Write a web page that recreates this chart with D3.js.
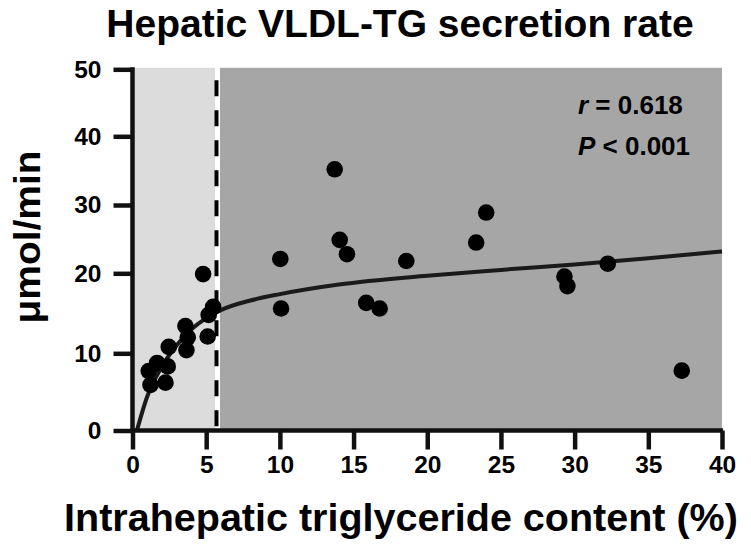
<!DOCTYPE html>
<html><head><meta charset="utf-8">
<script src="https://cdn.jsdelivr.net/npm/d3@7"></script>
<style>
body{margin:0;background:#fff}
svg{display:block}
text{font-family:"Liberation Sans",Arial,Helvetica,sans-serif;font-weight:bold;fill:#000}
</style>
</head><body>
<svg id="chart" width="751" height="548"></svg>
<script>
// ---- data ----
const ihtgContent = [4.79, 5.47, 5.17, 5.10, 3.59, 3.75, 3.66, 2.46, 2.39, 1.67, 1.10, 1.22, 2.24,
                     10.03, 10.08, 13.72, 14.06, 14.55, 18.58, 24.0, 23.32, 15.86, 16.77, 29.31, 29.51, 32.25, 37.27];
const vldlSecretion = [19.9, 15.8, 14.8, 12.1, 13.4, 12.0, 10.4, 10.8, 8.3, 8.75, 7.7, 5.9, 6.2,
                     22.1, 15.6, 35.2, 24.9, 22.8, 21.8, 28.9, 24.5, 16.3, 15.6, 19.6, 18.4, 21.4, 7.75];
const fitX = [0.3, 1.0, 2, 3, 4, 5, 6, 8, 10, 14, 20, 25, 30, 35, 40];
const fitY = [0, 4.4, 8.3, 11.0, 13.0, 14.4, 15.4, 16.6, 17.4, 18.6, 19.7, 20.5, 21.3, 22.2, 23.2];
const xTicks = [0, 5, 10, 15, 20, 25, 30, 35, 40];
const yTicks = [0, 10, 20, 30, 40, 50];
const threshold = 5.7;
const titleText = "Hepatic VLDL-TG secretion rate";
const xLabelText = "Intrahepatic triglyceride content (%)";
const yLabelText = "μmol/min";
const statR = "0.618";
const statP = "0.001";

// ---- layout ----
const svg = d3.select("#chart");
const x = d3.scaleLinear().domain([0, 40]).range([132.5, 722]);
// the reference's vertical axis is not evenly spaced; follow its tick positions
const y = d3.scaleLinear().domain(yTicks).range([430.5, 353.3, 273.3, 205, 136.3, 69.3]);

// backgrounds
svg.append("rect").attr("x", x(0)).attr("y", y(50) - 1.5)
  .attr("width", x(threshold) - x(0)).attr("height", y(0) - y(50) + 1.5).attr("fill", "#dcdcdc");
svg.append("rect").attr("x", x(threshold) + 3).attr("y", y(50) - 1.5)
  .attr("width", x(40) - x(threshold) - 3).attr("height", y(0) - y(50) + 1.5).attr("fill", "#a6a6a6");
// threshold line
svg.append("line").attr("x1", x(threshold) + 1).attr("x2", x(threshold) + 1)
  .attr("y1", y(50) - 1.5).attr("y2", y(0)).attr("stroke", "#fff").attr("stroke-width", 5);
svg.append("line").attr("x1", x(threshold)).attr("x2", x(threshold))
  .attr("y1", y(50) + 11).attr("y2", y(0)).attr("stroke", "#000").attr("stroke-width", 4)
  .attr("stroke-dasharray", "16,14");

// fit curve
const fitData = fitX.map((d, i) => [d, fitY[i]]);
svg.append("path").datum(fitData)
  .attr("d", d3.line().x(d => x(d[0])).y(d => y(d[1])).curve(d3.curveMonotoneX))
  .attr("fill", "none").attr("stroke", "#1a1a1a").attr("stroke-width", 4);

// points
svg.append("g").selectAll("circle").data(ihtgContent.map((d, i) => [d, vldlSecretion[i]]))
  .join("circle").attr("cx", d => x(d[0])).attr("cy", d => y(d[1])).attr("r", 8.3).attr("fill", "#000");

// axes
const xAxis = svg.append("g").attr("transform", `translate(0,${y(0)})`)
  .call(d3.axisBottom(x).tickValues(xTicks).tickSize(19).tickPadding(6).tickSizeOuter(0));
const yAxis = svg.append("g").attr("transform", `translate(${x(0)},0)`)
  .call(d3.axisLeft(y).tickValues(yTicks).tickSize(19).tickPadding(12).tickSizeOuter(0));
[xAxis, yAxis].forEach(g => {
  g.select(".domain").attr("stroke", "#111").attr("stroke-width", 4.5);
  g.selectAll(".tick line").attr("stroke", "#111").attr("stroke-width", 4.5);
  g.selectAll("text").attr("font-family", "Liberation Sans, Arial, sans-serif")
    .attr("font-weight", "bold").attr("font-size", 24.5).attr("fill", "#000");
});
xAxis.select(".domain").attr("d", `M${x(0) - 2},0H${x(40) + 1}`);
yAxis.select(".domain").attr("d", `M0,${y(0) + 2}V${y(50) - 2}`);

// titles
svg.append("text").attr("x", 400).attr("y", 37).attr("text-anchor", "middle")
  .attr("font-size", 39).text(titleText);
svg.append("text").attr("x", 401).attr("y", 531).attr("text-anchor", "middle")
  .attr("font-size", 39.5).text(xLabelText);
svg.append("text").attr("transform", "translate(40,237) rotate(-90)").attr("text-anchor", "middle")
  .attr("font-size", 36).attr("textLength", 173).attr("lengthAdjust", "spacingAndGlyphs").text(yLabelText);

// stats
const t1 = svg.append("text").attr("x", 578).attr("y", 114).attr("font-size", 26);
t1.append("tspan").attr("font-style", "italic").text("r");
t1.append("tspan").text(" = " + statR);
const t2 = svg.append("text").attr("x", 578).attr("y", 155).attr("font-size", 26);
t2.append("tspan").attr("font-style", "italic").text("P");
t2.append("tspan").text(" < " + statP);
</script>
</body></html>
